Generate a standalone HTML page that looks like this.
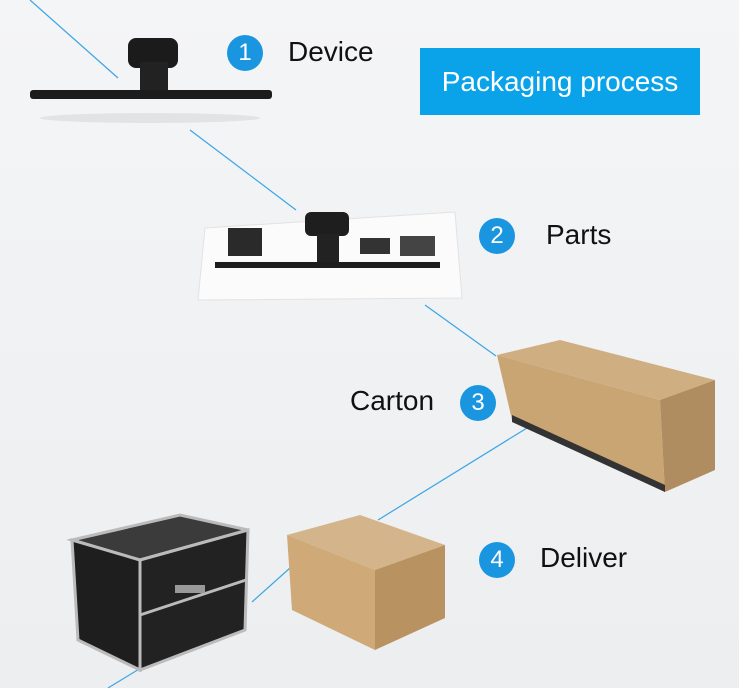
<!DOCTYPE html>
<html><head><meta charset="utf-8"><style>
html,body{margin:0;padding:0}
body{width:739px;height:688px;overflow:hidden;background:linear-gradient(#f4f5f7,#eceef0);position:relative;font-family:"Liberation Sans",sans-serif}
.t{position:absolute;font-size:28px;color:#111}
.c{position:absolute;width:36px;height:36px;border-radius:50%;background:#1a96e0;color:#fff;font-size:24px;text-align:center;line-height:36px}
</style></head><body>
<svg width="739" height="688" style="position:absolute;left:0;top:0">
<g stroke="#3aa6e6" stroke-width="1.2">
<line x1="30" y1="0" x2="118" y2="78"/>
<line x1="190" y1="130" x2="296" y2="210"/>
<line x1="425" y1="305" x2="496" y2="356"/>
<line x1="527" y1="428" x2="378" y2="520"/>
<line x1="290" y1="568" x2="252" y2="602"/>
<line x1="200" y1="632" x2="108" y2="688"/>
</g>
<ellipse cx="150" cy="118" rx="110" ry="5" fill="#e2e3e5"/>
<rect x="128" y="38" width="50" height="30" rx="8" fill="#1b1b1b"/>
<rect x="140" y="62" width="28" height="30" fill="#222"/>
<rect x="30" y="90" width="242" height="9" rx="3" fill="#1c1c1c"/>
<polygon points="205,228 455,212 462,298 198,300" fill="#fbfbfb" stroke="#e2e2e2"/>
<rect x="228" y="228" width="34" height="28" fill="#2a2a2a"/>
<rect x="305" y="212" width="44" height="24" rx="6" fill="#1e1e1e"/>
<rect x="317" y="234" width="22" height="28" fill="#222"/>
<rect x="215" y="262" width="225" height="6" fill="#1e1e1e"/>
<rect x="360" y="238" width="30" height="16" fill="#333"/>
<rect x="400" y="236" width="35" height="20" fill="#444"/>
<polygon points="497,355 560,340 715,380 660,400" fill="#cfae82"/>
<polygon points="497,355 660,400 665,492 512,420" fill="#c9a574"/>
<polygon points="660,400 715,380 715,470 665,492" fill="#b08d60"/>
<polygon points="512,415 665,485 665,492 512,422" fill="#333"/>
<polygon points="287,535 360,515 445,545 375,570" fill="#d4b48a"/>
<polygon points="287,535 375,570 375,650 292,610" fill="#cfa977"/>
<polygon points="375,570 445,545 445,618 375,650" fill="#b99262"/>
<polygon points="72,540 180,515 248,530 140,560" fill="#3b3b3b" stroke="#bbb" stroke-width="3"/>
<polygon points="72,540 140,560 140,670 78,640" fill="#1e1e1e" stroke="#bbb" stroke-width="3"/>
<polygon points="140,560 248,530 245,630 140,670" fill="#222" stroke="#bbb" stroke-width="3"/>
<line x1="140" y1="615" x2="246" y2="580" stroke="#bbb" stroke-width="3"/>
<rect x="175" y="585" width="30" height="8" fill="#999"/>
</svg>
<div class="c" style="left:227px;top:35px">1</div><div class="t" style="left:288px;top:36px">Device</div>
<div style="position:absolute;left:420px;top:48px;width:280px;height:67px;background:#0aa3ea;color:#fff;font-size:28px;line-height:67px;text-align:center">Packaging process</div>
<div class="c" style="left:479px;top:218px">2</div><div class="t" style="left:546px;top:219px">Parts</div>
<div class="t" style="left:350px;top:385px">Carton</div><div class="c" style="left:460px;top:385px">3</div>
<div class="c" style="left:479px;top:542px">4</div><div class="t" style="left:540px;top:542px">Deliver</div>
</body></html>
